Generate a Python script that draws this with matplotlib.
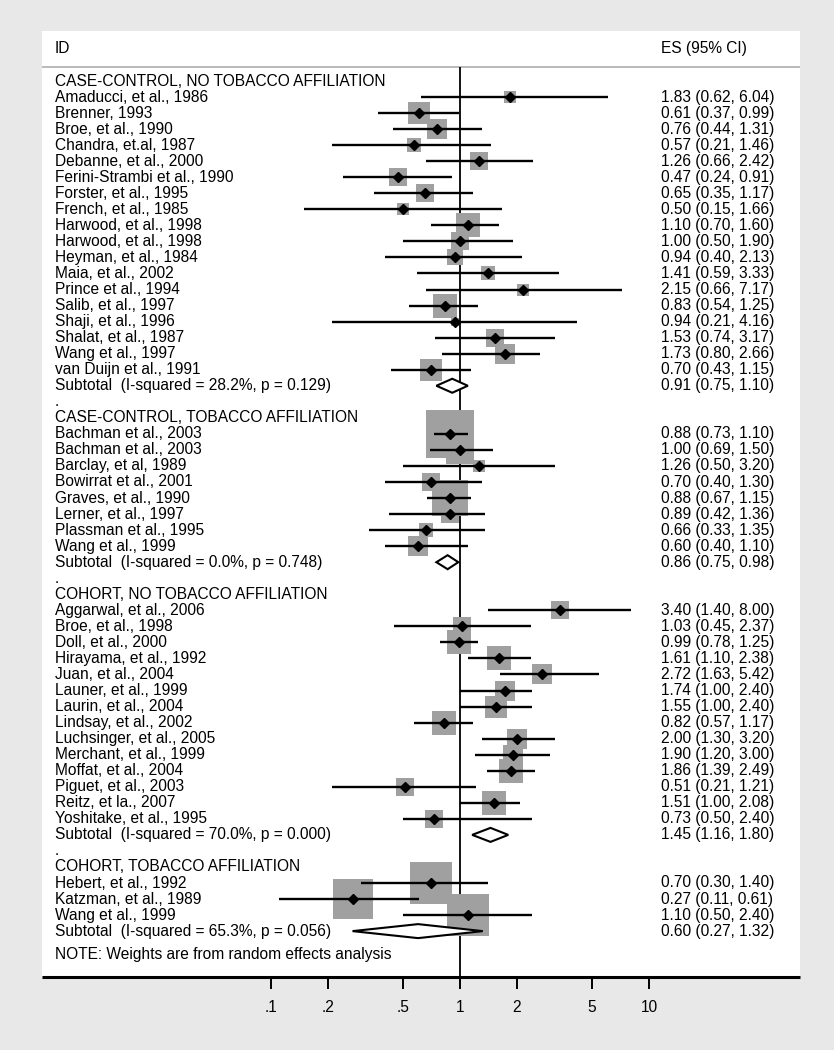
import matplotlib.pyplot as plt
import numpy as np
from matplotlib.patches import Polygon
from matplotlib.transforms import blended_transform_factory

plt.rcParams['font.family'] = ['Liberation Sans', 'DejaVu Sans']

# group headings and subtotal labels
group_titles = ["CASE-CONTROL, NO TOBACCO AFFILIATION",
                "CASE-CONTROL, TOBACCO AFFILIATION",
                "COHORT, NO TOBACCO AFFILIATION",
                "COHORT, TOBACCO AFFILIATION"]
subtotal_labels = ["Subtotal  (I-squared = 28.2%, p = 0.129)",
                   "Subtotal  (I-squared = 0.0%, p = 0.748)",
                   "Subtotal  (I-squared = 70.0%, p = 0.000)",
                   "Subtotal  (I-squared = 65.3%, p = 0.056)"]
subtotal_es = [0.91, 0.86, 1.45, 0.60]
subtotal_lo = [0.75, 0.75, 1.16, 0.27]
subtotal_hi = [1.10, 0.98, 1.80, 1.32]

# case-control, no tobacco affiliation
g1_names = ["Amaducci, et al., 1986", "Brenner, 1993", "Broe, et al., 1990",
            "Chandra, et.al, 1987", "Debanne, et al., 2000", "Ferini-Strambi et al., 1990",
            "Forster, et al., 1995", "French, et al., 1985", "Harwood, et al., 1998",
            "Harwood, et al., 1998", "Heyman, et al., 1984", "Maia, et al., 2002",
            "Prince et al., 1994", "Salib, et al., 1997", "Shaji, et al., 1996",
            "Shalat, et al., 1987", "Wang et al., 1997", "van Duijn et al., 1991"]
g1_es = [1.83, 0.61, 0.76, 0.57, 1.26, 0.47, 0.65, 0.50, 1.10, 1.00, 0.94, 1.41,
         2.15, 0.83, 0.94, 1.53, 1.73, 0.70]
g1_lo = [0.62, 0.37, 0.44, 0.21, 0.66, 0.24, 0.35, 0.15, 0.70, 0.50, 0.40, 0.59,
         0.66, 0.54, 0.21, 0.74, 0.80, 0.43]
g1_hi = [6.04, 0.99, 1.31, 1.46, 2.42, 0.91, 1.17, 1.66, 1.60, 1.90, 2.13, 3.33,
         7.17, 1.25, 4.16, 3.17, 2.66, 1.15]
g1_w = [1.4, 4.8, 4.4, 2.0, 3.6, 3.2, 3.6, 1.4, 5.8, 3.2, 2.6, 2.2,
        1.4, 5.8, 0.8, 3.2, 4.0, 4.8]

# case-control, tobacco affiliation
g2_names = ["Bachman et al., 2003", "Bachman et al., 2003", "Barclay, et al, 1989",
            "Bowirrat et al., 2001", "Graves, et al., 1990", "Lerner, et al., 1997",
            "Plassman et al., 1995", "Wang et al., 1999"]
g2_es = [0.88, 1.00, 1.26, 0.70, 0.88, 0.89, 0.66, 0.60]
g2_lo = [0.73, 0.69, 0.50, 0.40, 0.67, 0.42, 0.33, 0.40]
g2_hi = [1.10, 1.50, 3.20, 1.30, 1.15, 1.36, 1.35, 1.10]
g2_w = [22.1, 7.3, 1.4, 3.2, 12.3, 2.9, 2.2, 4.0]

# cohort, no tobacco affiliation
g3_names = ["Aggarwal, et al., 2006", "Broe, et al., 1998", "Doll, et al., 2000",
            "Hirayama, et al., 1992", "Juan, et al., 2004", "Launer, et al., 1999",
            "Laurin, et al., 2004", "Lindsay, et al., 2002", "Luchsinger, et al., 2005",
            "Merchant, et al., 1999", "Moffat, et al., 2004", "Piguet, et al., 2003",
            "Reitz, et la., 2007", "Yoshitake, et al., 1995"]
g3_es = [3.40, 1.03, 0.99, 1.61, 2.72, 1.74, 1.55, 0.82, 2.00, 1.90, 1.86, 0.51, 1.51, 0.73]
g3_lo = [1.40, 0.45, 0.78, 1.10, 1.63, 1.00, 1.00, 0.57, 1.30, 1.20, 1.39, 0.21, 1.00, 0.50]
g3_hi = [8.00, 2.37, 1.25, 2.38, 5.42, 2.40, 2.40, 1.17, 3.20, 3.00, 2.49, 1.21, 2.08, 2.40]
g3_w = [2.9, 2.9, 5.8, 5.3, 4.0, 4.4, 4.8, 5.3, 4.4, 4.4, 5.8, 2.9, 5.3, 2.9]

# cohort, tobacco affiliation
g4_names = ["Hebert, et al., 1992", "Katzman, et al., 1989", "Wang et al., 1999"]
g4_es = [0.70, 0.27, 1.10]
g4_lo = [0.30, 0.11, 0.50]
g4_hi = [1.40, 0.61, 2.40]
g4_w = [17.6, 16.8, 17.6]

tick_vals = [0.1, 0.2, 0.5, 1, 2, 5, 10]
tick_labels = [".1", ".2", ".5", "1", "2", "5", "10"]

groups = [(g1_names, g1_es, g1_lo, g1_hi, g1_w),
          (g2_names, g2_es, g2_lo, g2_hi, g2_w),
          (g3_names, g3_es, g3_lo, g3_hi, g3_w),
          (g4_names, g4_es, g4_lo, g4_hi, g4_w)]

W, H = 834, 1050
fig = plt.figure(figsize=(W / 100, H / 100), dpi=100, facecolor='#e8e8e8')
ax = fig.add_axes([42 / W, 1 - 977 / H, (800 - 42) / W, (977 - 31) / H])
ax.set_facecolor('white')

# pixel geometry of the original: 1 at x=460, 189 px per decade, rows 16.04 px
px_dec = 189.0
row_h = 16.04
ax.set_xscale('log')
ax.set_xlim(10 ** ((42 - 460) / px_dec), 10 ** ((800 - 460) / px_dec))
ytop = (31 - 81) / row_h + 1
ybot = (977 - 81) / row_h + 1
ax.set_ylim(ybot, ytop)

tr = blended_transform_factory(ax.transAxes, ax.transData)
xl = (55 - 42) / 758
xr = (661 - 42) / 758
fs = 11.2

ax.text(xl, -1.0, "ID", transform=tr, fontsize=fs, va='center')
ax.text(xr, -1.0, "ES (95% CI)", transform=tr, fontsize=fs, va='center')
sep = (67 - 81) / row_h + 1
ax.axhline(sep, color='#b4b4b4', lw=1.3, zorder=1)
ax.vlines(1, sep, ybot, color='black', lw=1.3, zorder=1)

row = 1
for gi, (names, es, lo, hi, w) in enumerate(groups):
    if gi > 0:
        ax.text(xl, row, ".", transform=tr, fontsize=fs, va='center')
        row += 1
    ax.text(xl, row, group_titles[gi], transform=tr, fontsize=fs, va='center')
    row += 1
    for n, e, l, h, wt in zip(names, es, lo, hi, w):
        ax.text(xl, row, n, transform=tr, fontsize=fs, va='center')
        ax.text(xr, row, f"{e:.2f} ({l:.2f}, {h:.2f})", transform=tr, fontsize=fs, va='center')
        side = 10 * np.sqrt(wt) * 0.72
        ax.scatter([e], [row], s=side ** 2, marker='s', color='#a0a0a0', linewidths=0, zorder=2)
        ax.plot([l, h], [row, row], color='black', lw=1.7, zorder=3, solid_capstyle='butt')
        ax.plot([e], [row], marker='D', color='black', markersize=5.5, zorder=4)
        row += 1
    ax.text(xl, row, subtotal_labels[gi], transform=tr, fontsize=fs, va='center')
    e, l, h = subtotal_es[gi], subtotal_lo[gi], subtotal_hi[gi]
    ax.text(xr, row, f"{e:.2f} ({l:.2f}, {h:.2f})", transform=tr, fontsize=fs, va='center')
    dh = 7 / row_h
    ax.add_patch(Polygon([(l, row), (e, row - dh), (h, row), (e, row + dh)], closed=True,
                         facecolor='white', edgecolor='black', lw=1.5, zorder=5))
    row += 1

ax.text(xl, (954 - 81) / row_h + 1, "NOTE: Weights are from random effects analysis",
        transform=tr, fontsize=fs, va='center')

for s in ['top', 'left', 'right']:
    ax.spines[s].set_visible(False)
ax.spines['bottom'].set_linewidth(2.2)
ax.spines['bottom'].set_capstyle('butt')
ax.set_yticks([])
ax.set_xticks(tick_vals)
ax.set_xticklabels(tick_labels)
ax.minorticks_off()
ax.tick_params(axis='x', direction='out', length=8.5, width=1.4, pad=8, labelsize=fs)

fig.savefig('out.png', dpi=100, facecolor=fig.get_facecolor())
